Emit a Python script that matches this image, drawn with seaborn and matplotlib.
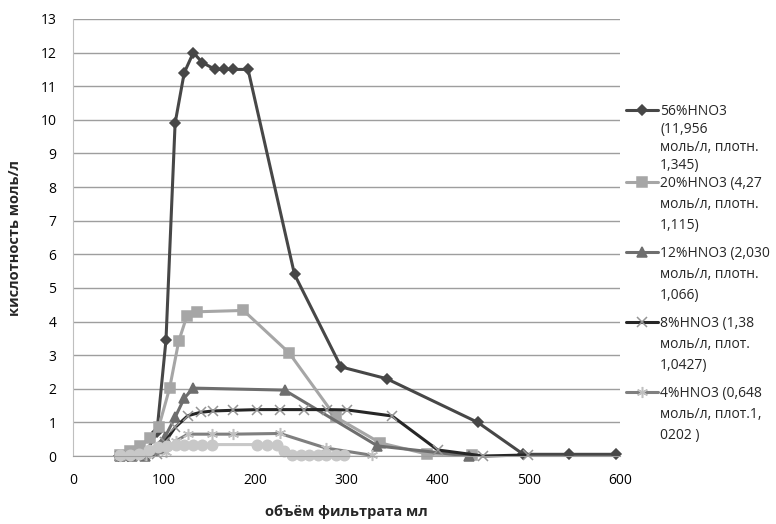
import matplotlib
matplotlib.use("Agg")
import matplotlib.pyplot as plt
from matplotlib.lines import Line2D
import seaborn as sns
import pandas as pd

# ---- data ----
x56 = [50, 60, 70, 80, 92, 102, 112, 122, 132, 142, 156, 166, 176, 192, 243, 294, 344, 444, 494, 544, 596]
y56 = [0, 0, 0.05, 0.1, 0.7, 3.45, 9.9, 11.4, 12.0, 11.7, 11.5, 11.5, 11.5, 11.5, 5.4, 2.65, 2.3, 1.0, 0.05, 0.05, 0.05]

x20 = [52, 63, 73, 85, 94, 106, 116, 125, 136, 187, 237, 288, 337, 388, 438]
y20 = [0.03, 0.15, 0.3, 0.53, 0.86, 2.02, 3.42, 4.17, 4.29, 4.33, 3.07, 1.16, 0.39, 0.06, 0.03]

x12 = [52, 65, 79, 101, 112, 122, 132, 232, 334, 434]
y12 = [0, 0, 0, 0.57, 1.15, 1.72, 2.02, 1.96, 0.3, 0.0]

x8 = [52, 75, 92, 101, 112, 126, 140, 154, 176, 202, 227, 253, 279, 301, 350, 400, 450, 499]
y8 = [0, 0, 0.05, 0.42, 0.85, 1.2, 1.3, 1.34, 1.36, 1.38, 1.38, 1.38, 1.38, 1.37, 1.19, 0.18, 0.0, 0.03]

x4 = [52, 80, 102, 113, 126, 153, 176, 227, 277, 328]
y4 = [0, 0.02, 0.12, 0.45, 0.65, 0.65, 0.65, 0.67, 0.24, 0.02]

xc = [52, 62, 72, 83, 93, 103, 113, 122, 132, 142, 152, 202, 213, 224, 231, 240, 250, 259, 269, 278, 288, 297]
yc = [0.02, 0.03, 0.05, 0.18, 0.27, 0.3, 0.32, 0.33, 0.33, 0.33, 0.34, 0.34, 0.34, 0.34, 0.15, 0.02, 0.02, 0.02, 0.02, 0.02, 0.02, 0.02]

labels = [
    "56%HNO3\n(11,956\nмоль/л, плотн.\n1,345)",
    "20%HNO3 (4,27\nмоль/л, плотн.\n1,115)",
    "12%HNO3 (2,030\nмоль/л, плотн.\n1,066)",
    "8%HNO3 (1,38\nмоль/л, плот.\n1,0427)",
    "4%HNO3 (0,648\nмоль/л, плот.1,\n0202 )",
]
xlabel = "объём фильтрата мл"
ylabel = "кислотность моль/л"
xticks = [0, 100, 200, 300, 400, 500, 600]
yticks = list(range(0, 14))

# ---- style ----
sns.set_style("white")
plt.rcParams['font.family'] = ['Open Sans', 'DejaVu Sans']

fig = plt.figure(figsize=(7.76, 5.24), dpi=100)
ax = fig.add_axes([73 / 776, 1 - 456 / 524, (620 - 73) / 776, (456 - 19) / 524])

series = [
    dict(x=x56, y=y56, color="#474747", marker="D", ms=5, lw=2.2, mfc="#474747", mec="#474747", label=labels[0]),
    dict(x=x20, y=y20, color="#a6a6a6", marker="s", ms=7, lw=2.2, mfc="#a6a6a6", mec="#a6a6a6", label=labels[1]),
    dict(x=x12, y=y12, color="#6e6e6e", marker="^", ms=7, lw=2.2, mfc="#6e6e6e", mec="#6e6e6e", label=labels[2]),
    dict(x=x8, y=y8, color="#262626", marker="x", ms=7.5, lw=2.2, mfc="none", mec="#959595", label=labels[3]),
    dict(x=x4, y=y4, color="#7f7f7f", marker=(6, 2, 0), ms=8, lw=2.2, mfc="none", mec="#c0c0c0", label=labels[4]),
    dict(x=xc, y=yc, color="#c8c8c8", marker="o", ms=7.5, lw=2.2, mfc="#c8c8c8", mec="#c8c8c8", label="_nolegend_"),
]

for s in series:
    df = pd.DataFrame({"x": s["x"], "y": s["y"]})
    sns.lineplot(data=df, x="x", y="y", ax=ax, sort=False, estimator=None,
                 color=s["color"], marker=s["marker"], markersize=s["ms"],
                 linewidth=s["lw"], markerfacecolor=s["mfc"], markeredgecolor=s["mec"],
                 markeredgewidth=1.1, label=s["label"], clip_on=False)

handles, labs = ax.get_legend_handles_labels()
if ax.get_legend() is not None:
    ax.get_legend().remove()

ax.set_xlim(0, 600)
ax.set_ylim(0, 13)
ax.set_xticks(xticks)
ax.set_yticks(yticks)
ax.yaxis.grid(True, color="#9e9e9e", linewidth=1.0)
ax.xaxis.grid(False)
ax.set_axisbelow(True)
for side in ["top", "right"]:
    ax.spines[side].set_visible(False)
ax.spines["left"].set_color("#bfbfbf")
ax.spines["bottom"].set_color("#9e9e9e")
ax.tick_params(axis="both", length=0, labelsize=10, colors="#000000", pad=12)
ax.set_xlabel(xlabel, fontsize=10.5, fontweight="bold", labelpad=12)
ax.set_ylabel(ylabel, fontsize=10.5, fontweight="bold", labelpad=13)

# legend entries, one per series, first text line aligned with the handle
tops = [104, 176, 246, 316, 386]
spacings = [0.22, 0.42, 0.42, 0.42, 0.42]
blank = Line2D([], [], linestyle="none", marker=None)
for h, l, t, sp in zip(handles, labs, tops, spacings):
    lines = l.split("\n")
    hs = [h] + [blank] * (len(lines) - 1)
    fig.legend(handles=hs, labels=lines, loc="upper left",
               bbox_to_anchor=(626 / 776, 1 - t / 524), frameon=False,
               fontsize=10, handlelength=2.3, handletextpad=0.15,
               borderpad=0, borderaxespad=0, labelspacing=sp)

fig.savefig("out.png", dpi=100)
